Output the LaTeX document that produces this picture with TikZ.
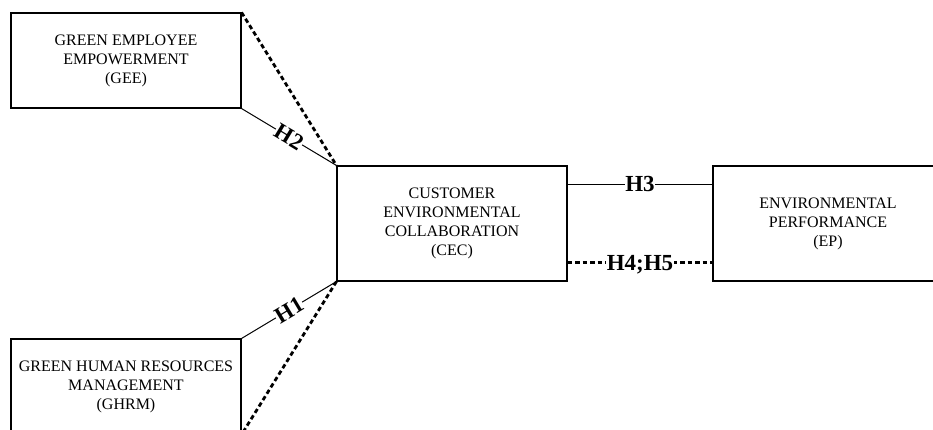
\documentclass[tikz,border=0pt]{standalone}
\usepackage{fontspec}
\setmainfont{Liberation Serif}
\usetikzlibrary{calc}
\begin{document}
\begin{tikzpicture}[x=1pt,y=-1pt,
  box/.style={draw=black,line width=1.1pt,minimum width=230pt,align=center,
    font=\fontsize{16}{19}\selectfont,inner sep=0pt},
  solidlink/.style={draw=black,line width=1pt},
  dotlink/.style={draw=black,line width=2.8pt,dash pattern=on 4.5pt off 3pt},
  hlabel/.style={fill=white,inner sep=0.5pt,font=\fontsize{23}{23}\bfseries\selectfont}]
\useasboundingbox (0,0) rectangle (933,430);
\clip (0,0) rectangle (933,430);
\node[box,minimum height=95pt] (GEE) at (126,60.5) {GREEN EMPLOYEE\\EMPOWERMENT\\(GEE)};
\node[box,minimum height=95pt] (GHRM) at (126,386.5) {GREEN HUMAN RESOURCES\\MANAGEMENT\\(GHRM)};
\node[box,minimum height=115pt] (CEC) at (452,223.5) {CUSTOMER\\ENVIRONMENTAL\\COLLABORATION\\(CEC)};
\node[box,minimum height=115pt] (EP) at (828,223.5) {ENVIRONMENTAL\\PERFORMANCE\\(EP)};
\draw[dotlink] (GEE.north east) -- (CEC.north west);
\draw[dotlink] (CEC.south west) -- (GHRM.south east);
\draw[solidlink] (GEE.south east) -- node[hlabel,sloped] {H2} (CEC.north west);
\draw[solidlink] (GHRM.north east) -- node[hlabel,sloped] {H1} (CEC.south west);
\draw[solidlink] ($(CEC.north east)+(0,19)$) -- node[hlabel] {H3} ($(EP.north west)+(0,19)$);
\draw[dotlink] ($(CEC.south east)+(0,-19)$) -- node[hlabel,yshift=-2pt] {H4;H5} ($(EP.south west)+(0,-19)$);
\end{tikzpicture}
\end{document}
